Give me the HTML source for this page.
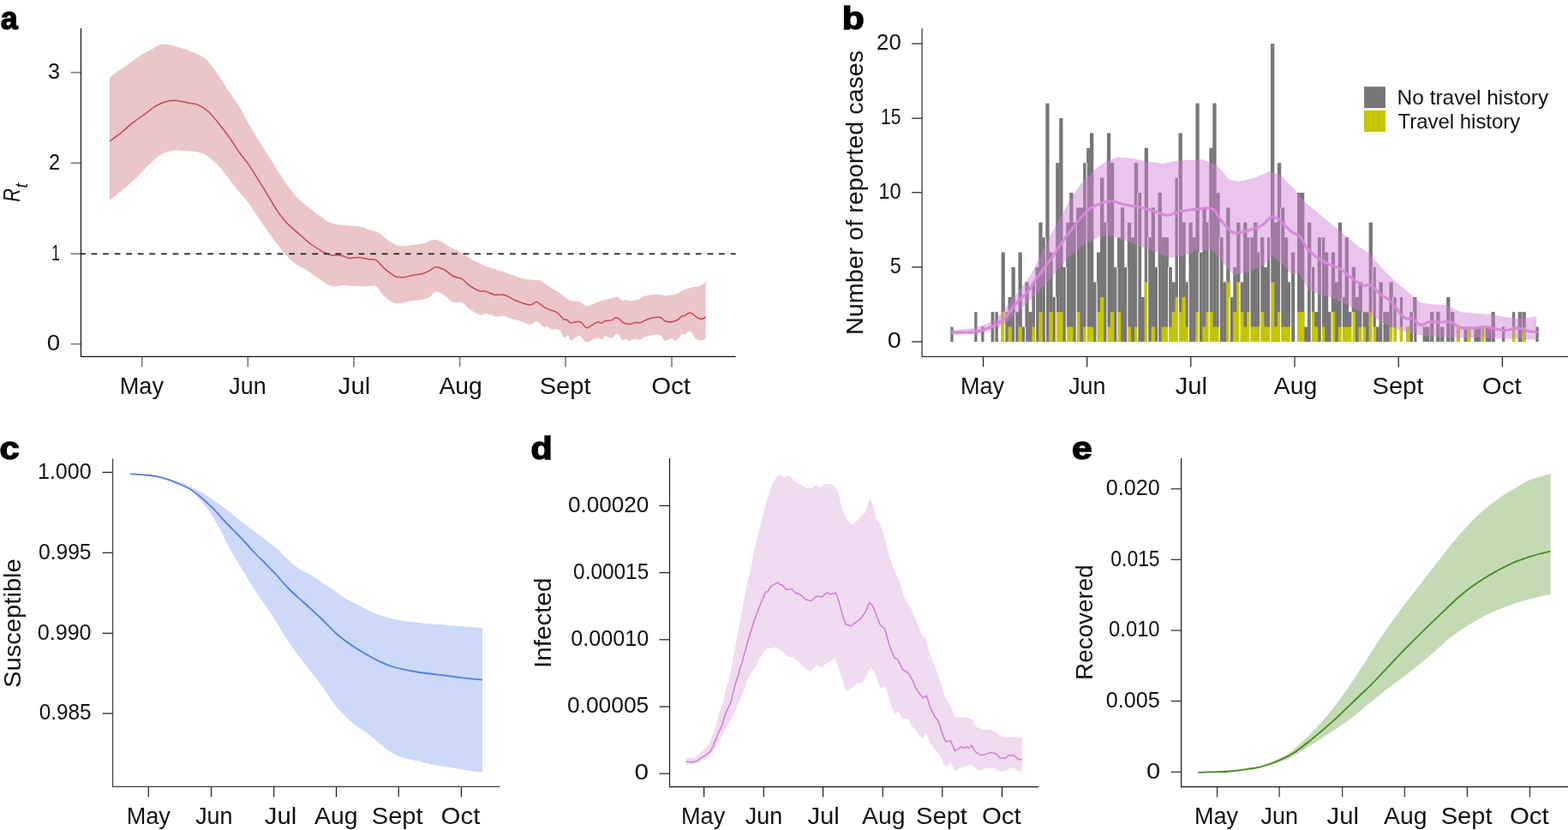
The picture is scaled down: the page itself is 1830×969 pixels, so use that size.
<!DOCTYPE html>
<html><head><meta charset="utf-8"><title>Figure</title>
<style>html,body{margin:0;padding:0;background:#fff;}svg{display:block;}text{font-family:"Liberation Sans", Arial, sans-serif;fill:#111111;}</style></head><body>
<svg width="1830" height="969" viewBox="0 0 1830 969">
<rect width="1830" height="969" fill="#fff"/>
<text x="0.7" y="33.8" font-size="37" textLength="20" lengthAdjust="spacingAndGlyphs" font-weight="bold" stroke="#000" stroke-width="1.4" style="fill:#000">a</text>
<text x="982.7" y="33.7" font-size="37" textLength="26" lengthAdjust="spacingAndGlyphs" font-weight="bold" stroke="#000" stroke-width="1.4" style="fill:#000">b</text>
<text x="-0.4" y="535.8" font-size="37" textLength="23.2" lengthAdjust="spacingAndGlyphs" font-weight="bold" stroke="#000" stroke-width="1.4" style="fill:#000">c</text>
<text x="619.6" y="535.8" font-size="37" textLength="25.2" lengthAdjust="spacingAndGlyphs" font-weight="bold" stroke="#000" stroke-width="1.4" style="fill:#000">d</text>
<text x="1251" y="535.8" font-size="37" textLength="23.7" lengthAdjust="spacingAndGlyphs" font-weight="bold" stroke="#000" stroke-width="1.4" style="fill:#000">e</text>
<path d="M127.8 90.6 C129.9 89 136 84.6 140.6 81.3 C145.2 78 151 73.9 155.1 71 C159.2 68.1 162 65.8 165.4 63.7 C168.8 61.6 171.9 60.6 175.7 58.6 C179.5 56.6 183.6 52.7 188.1 51.8 C192.6 50.9 197.4 52.3 202.6 53.4 C207.8 54.5 213.5 56.5 219 58.6 C224.5 60.7 231.5 63.4 235.6 65.8 C239.7 68.2 240.4 69 243.8 73 C247.2 77 252.4 84 256.2 89.5 C260 95 263.1 100.8 266.5 106 C269.9 111.2 273 114.2 276.9 120.5 C280.8 126.8 285.8 136.7 290 144.1 C294.2 151.5 298.3 158.1 302.4 164.8 C306.5 171.5 310.7 177.9 314.8 184.4 C318.9 190.9 322.7 197.3 327.2 204 C331.7 210.7 336.8 218.8 341.6 224.6 C346.4 230.4 350.8 234.6 356 239.1 C361.2 243.6 367.8 248.1 372.6 251.5 C377.4 254.9 380.1 257.8 384.9 259.7 C389.7 261.6 395.3 261.9 401.5 262.8 C407.7 263.7 417.4 264 422.1 264.9 C426.9 265.8 426.6 266.9 430 268 C433.4 269.1 439.3 270.2 442.4 271.8 C445.5 273.4 446.1 275.4 448.6 277.3 C451.1 279.2 454.1 281.9 457.2 283.5 C460.3 285.1 463.5 286.7 467.2 287.2 C470.9 287.7 475.4 286.7 479.5 286.3 C483.6 285.9 488.2 285.6 491.9 284.8 C495.6 284 499.1 282.1 501.8 281.3 C504.5 280.5 505.5 279.5 508 279.8 C510.5 280.1 514 281.5 516.7 282.9 C519.4 284.2 521 286.1 524.1 287.9 C527.2 289.6 532 291.6 535.3 293.4 C538.6 295.1 541.2 296.8 543.9 298.4 C546.6 300 548.7 301.8 551.4 303.3 C554.1 304.9 556.5 306.1 560 307.7 C563.5 309.2 568.3 311.2 572.4 312.6 C576.5 314 580.7 315 584.8 316.3 C588.9 317.6 593.1 319.2 597.2 320.7 C601.3 322.1 605.5 324 609.6 325 C613.7 326 618.6 326.5 622 326.9 C625.4 327.3 626.9 326.2 630 327.5 C633.1 328.8 636.9 332.1 640.9 334.6 C644.9 337.2 651.1 340.8 654 342.8 C656.9 344.8 656.4 345.2 658.4 346.6 C660.4 348 663 350 666.1 351 C669.2 352 674.3 351.7 677 352.6 C679.7 353.5 680.9 355.7 682.5 356.4 C684.1 357.1 684.6 357.5 686.8 357 C689 356.5 692.3 354.4 695.6 353.2 C698.9 352 703.6 350.7 706.5 349.9 C709.4 349.1 711.1 348.9 713.1 348.3 C715.1 347.8 716.9 346.7 718.5 346.6 C720.1 346.5 721.6 347 722.9 347.7 C724.2 348.4 724.9 350.6 726.2 351 C727.5 351.4 729 349.8 730.5 349.9 C732 350 732.4 351.6 734.9 351.5 C737.4 351.4 743.2 350.1 745.8 349.3 C748.3 348.5 747.7 347.5 750.2 346.6 C752.8 345.7 757.6 344.6 761.1 344.1 C764.6 343.7 768.1 343.7 771 343.9 C773.9 344.1 775.3 345.4 778.6 345.2 C781.9 345 787.8 343.8 790.7 342.8 C793.6 341.8 793.7 340.4 796.1 339.3 C798.5 338.2 801.6 337.1 804.9 336.2 C808.2 335.3 813.2 334.7 815.8 334 C818.3 333.3 818.9 332.8 820.2 331.9 C821.5 331 823.1 329 823.7 328.4 L823.7 395.2 C823.1 395.5 821.5 396.6 820.2 396.9 C818.9 397.2 817.3 397.3 815.8 396.9 C814.3 396.5 812.9 396.2 811.4 394.7 C809.9 393.2 808.3 389.4 807 388.1 C805.7 386.8 805.1 386.5 803.8 387 C802.5 387.5 800.7 390.4 799.4 390.9 C798.1 391.4 797.4 389.1 796.1 389.8 C794.8 390.5 793.2 393.8 791.7 395.2 C790.2 396.6 788.7 398.1 787.4 398 C786.1 397.9 785.2 395 784.1 394.7 C783 394.4 782.2 395.9 780.8 396.3 C779.3 396.8 777.2 398.3 775.4 397.4 C773.6 396.5 772.3 391.9 769.9 390.9 C767.5 389.9 764.2 390.9 761.1 391.4 C758 391.8 753.7 392.7 751.3 393.6 C748.9 394.5 748.9 396.5 746.9 396.9 C744.9 397.3 741.3 395.5 739.3 395.8 C737.3 396.1 736.4 398.5 734.9 398.5 C733.4 398.5 732 396.1 730.5 395.8 C729 395.5 727.5 397.6 726.2 396.9 C724.9 396.2 724.2 392.5 722.9 391.4 C721.6 390.3 720 389.8 718.5 390.3 C717 390.9 716.2 394.3 714.2 394.7 C712.2 395.1 708.5 392.1 706.5 392.5 C704.5 392.9 703.4 396.6 702.1 396.9 C700.8 397.2 700.4 394.4 698.9 394.2 C697.4 394 695.4 395 693.4 395.8 C691.4 396.6 688.6 398.7 686.8 399.1 C685 399.6 684.1 399.7 682.5 398.5 C680.9 397.3 678.8 392.7 677 392 C675.2 391.3 673.3 393.3 671.5 394.2 C669.7 395.1 667.6 397.9 666.1 397.4 C664.6 396.9 664.1 391.9 662.8 391.4 C661.5 390.9 659.9 395 658.4 394.2 C656.9 393.4 655.5 388.1 654 386.5 C652.5 384.9 651.5 384.7 649.7 384.3 C647.9 383.9 644.9 384.9 643.1 384.3 C641.3 383.8 640.2 381.4 638.7 381 C637.2 380.6 635.9 382.1 634.4 381.6 C632.9 381.1 631.5 378.8 630 377.8 C628.5 376.8 627.7 375.3 625.7 375.5 C623.7 375.7 620.9 378.8 618.2 378.9 C615.5 378.9 613.1 376.9 609.6 375.8 C606.1 374.7 600.7 373.2 597.2 372.1 C593.7 371 591.6 369.4 588.5 369 C585.4 368.6 582.1 370.1 578.6 369.6 C575.1 369.1 570.4 366.2 567.5 365.9 C564.6 365.6 564.4 368.4 561.3 367.7 C558.2 367 552.6 364 548.9 361.5 C545.2 359 542.3 354.3 539 352.9 C535.7 351.5 532.8 354.4 529.1 352.9 C525.4 351.3 520.2 345.7 516.7 343.6 C513.2 341.5 510.5 340 508 340.5 C505.5 341 504.5 345.1 501.8 346.7 C499.1 348.2 495.6 349 491.9 349.8 C488.2 350.6 483 351 479.5 351.6 C476 352.2 474 353.1 470.9 353.5 C467.8 353.9 464.1 354.8 461 354.1 C457.9 353.4 455 351.3 452.3 349.2 C449.6 347.1 447.2 344.2 444.9 341.7 C442.6 339.2 441.2 335.3 438.7 334.1 C436.2 332.9 434.1 334.3 430 334.3 C425.9 334.3 418.6 334.2 413.8 334 C409.1 333.8 406 333 401.5 333 C397 333 391.8 335.2 387 334 C382.2 332.8 377.4 328.9 372.6 325.8 C367.8 322.7 362.9 318.5 358.1 315.4 C353.3 312.3 348.2 310.6 343.7 307.2 C339.2 303.8 335.8 300 331.3 294.8 C326.8 289.6 321.6 282.7 316.8 276.2 C312 269.7 306.9 262.1 302.4 255.6 C297.9 249.1 294.2 242.7 290 237 C285.8 231.3 281.1 226.9 276.9 221.6 C272.6 216.3 268.6 210.2 264.5 205.1 C260.4 199.9 256.9 195.1 252.1 190.7 C247.3 186.3 241.8 181.1 235.6 178.7 C229.4 176.3 220.4 176.7 214.9 176.2 C209.4 175.7 207.1 175.1 202.6 175.8 C198.1 176.5 192.6 177.8 188.1 180.3 C183.6 182.8 179.1 187.6 175.7 190.7 C172.3 193.8 170.9 195.5 167.5 198.9 C164.1 202.3 159.6 207.2 155.1 211.3 C150.6 215.4 145.2 219.9 140.6 223.7 C136 227.5 129.9 232.3 127.8 234 Z" fill="#ebc6c8"/>
<path d="M127.8 164.9 C129.9 163.3 136 159.2 140.6 155.6 C145.2 152 150.3 147 155.1 143.2 C159.9 139.4 165 136.2 169.5 132.9 C174 129.6 177.8 126 181.9 123.6 C186 121.2 190.2 119.4 194.3 118.4 C198.4 117.4 202.2 117.1 206.7 117.4 C211.2 117.8 217 119.6 221.1 120.5 C225.2 121.4 227.7 120.9 231.5 122.6 C235.3 124.3 239.7 127 243.8 130.8 C247.9 134.6 252.1 140.1 256.2 145.3 C260.3 150.5 264.5 156 268.6 161.8 C272.7 167.6 277.4 175.3 281 180.3 C284.6 185.3 286.8 187 290 191.6 C293.2 196.2 296.9 202.6 300.3 208.1 C303.7 213.6 306.8 218.4 310.6 224.6 C314.4 230.8 319.2 239.6 323 245.3 C326.8 251 329.2 254.2 333.3 258.7 C337.4 263.2 343 267.8 347.8 272.1 C352.6 276.4 357.4 280.9 362.2 284.5 C367 288.1 372.6 291.6 376.7 293.8 C380.8 296 383.6 297.2 387 297.9 C390.4 298.6 393.9 297.3 397.3 297.9 C400.7 298.5 404.2 300.9 407.6 301.4 C411.1 301.8 414.3 300.4 418 300.6 C421.7 300.8 426.6 302.2 430 302.7 C433.4 303.2 435.6 301.8 438.7 303.6 C441.8 305.4 444.9 310.2 448.6 313.3 C452.3 316.4 457.3 320.8 461 322.5 C464.7 324.2 467.4 324 470.9 323.8 C474.4 323.6 478.1 322.1 482 321.3 C485.9 320.5 491.1 320.1 494.4 319.2 C497.7 318.3 499.5 316.9 501.8 315.7 C504.1 314.5 505.3 312 508 311.8 C510.7 311.6 514.4 312.7 517.9 314.5 C521.4 316.3 525.6 320.6 529.1 322.5 C532.6 324.4 535.9 323.8 539 325.6 C542.1 327.4 544.1 330.7 547.6 333.1 C551.1 335.5 556.9 338.8 560 339.9 C563.1 341 563.3 339.2 566.2 339.9 C569.1 340.6 573.7 343.5 577.4 344.2 C581.1 344.9 584.6 343.2 588.5 344.2 C592.4 345.2 595.9 348.4 600.9 350.4 C605.9 352.4 614.1 355.7 618.2 356 C622.3 356.3 623.7 352.5 625.7 352.3 C627.7 352.1 628.5 353.8 630 354.8 C631.5 355.8 632.6 357 634.4 358.1 C636.2 359.2 638.3 360.3 640.9 361.4 C643.5 362.5 647 362.8 649.7 364.6 C652.4 366.4 655.3 370.8 657.3 372.3 C659.3 373.8 660.2 372.6 661.7 373.4 C663.2 374.2 664.1 376.5 666.1 376.9 C668.1 377.3 671.7 375.7 673.7 375.6 C675.7 375.5 676.6 375.2 678.1 376.1 C679.6 377 681.2 379.9 682.5 381 C683.8 382.1 684.2 383 685.7 382.7 C687.2 382.4 689.2 380.5 691.2 379.4 C693.2 378.3 696 376.5 697.8 376.1 C699.6 375.7 700.6 377.5 702.1 377.2 C703.6 376.9 704.5 375.1 706.5 374.5 C708.5 373.9 712.2 374.5 714.2 373.9 C716.2 373.3 717 371 718.5 370.7 C720 370.4 721.6 371.4 722.9 372.3 C724.2 373.2 724.2 375.1 726.2 376.1 C728.2 377.2 732.4 378.6 734.9 378.6 C737.4 378.7 739.5 376.7 741.5 376.4 C743.5 376.1 744.5 377.3 746.9 376.7 C749.3 376.1 753 373.8 755.7 372.8 C758.4 371.8 760.8 371.1 763.3 370.7 C765.8 370.3 769 370.1 771 370.7 C773 371.3 773.9 373.6 775.4 374.5 C776.9 375.4 777.7 375.7 779.7 375.8 C781.7 375.9 785.4 375.5 787.4 375 C789.4 374.5 790.2 373.8 791.7 372.8 C793.2 371.8 794.8 369.7 796.1 369 C797.4 368.3 798.1 369.1 799.4 368.5 C800.7 367.9 802.3 365.9 803.8 365.5 C805.2 365.1 806.6 365.5 808.1 366.3 C809.6 367.1 810.9 369.1 812.5 370.1 C814.1 371.1 816.1 372.5 818 372.5 C819.9 372.5 822.8 370.7 823.7 370.3" fill="none" stroke="#c64952" stroke-width="1.5" stroke-linejoin="round"/>
<line x1="93.05" y1="296.4" x2="858.7" y2="296.4" stroke="#222" stroke-width="1.6" stroke-dasharray="6.7 6.865"/>
<line x1="82.5" y1="401.6" x2="94.5" y2="401.6" stroke="#7a7a7a" stroke-width="1.6"/>
<line x1="82.5" y1="296.3" x2="94.5" y2="296.3" stroke="#7a7a7a" stroke-width="1.6"/>
<line x1="82.5" y1="190.4" x2="94.5" y2="190.4" stroke="#7a7a7a" stroke-width="1.6"/>
<line x1="82.5" y1="84.6" x2="94.5" y2="84.6" stroke="#7a7a7a" stroke-width="1.6"/>
<line x1="165.7" y1="416.4" x2="165.7" y2="428.4" stroke="#7a7a7a" stroke-width="1.6"/>
<line x1="289.3" y1="416.4" x2="289.3" y2="428.4" stroke="#7a7a7a" stroke-width="1.6"/>
<line x1="413" y1="416.4" x2="413" y2="428.4" stroke="#7a7a7a" stroke-width="1.6"/>
<line x1="536.6" y1="416.4" x2="536.6" y2="428.4" stroke="#7a7a7a" stroke-width="1.6"/>
<line x1="660" y1="416.4" x2="660" y2="428.4" stroke="#7a7a7a" stroke-width="1.6"/>
<line x1="784" y1="416.4" x2="784" y2="428.4" stroke="#7a7a7a" stroke-width="1.6"/>
<path d="M94.5 33 V416.4 H858.6" fill="none" stroke="#111" stroke-width="1.2"/>
<text x="54.7" y="408.8" font-size="25" textLength="15.4" lengthAdjust="spacingAndGlyphs" >0</text>
<text x="60.2" y="303.5" font-size="25" textLength="9.5" lengthAdjust="spacingAndGlyphs" >1</text>
<text x="57" y="197.6" font-size="25" textLength="13" lengthAdjust="spacingAndGlyphs" >2</text>
<text x="56" y="91.8" font-size="25" textLength="14" lengthAdjust="spacingAndGlyphs" >3</text>
<text x="139.8" y="460.3" font-size="27.5" textLength="51.2" lengthAdjust="spacingAndGlyphs" >May</text>
<text x="267.3" y="460.3" font-size="27.5" textLength="43.3" lengthAdjust="spacingAndGlyphs" >Jun</text>
<text x="394.8" y="460.3" font-size="27.5" textLength="37.4" lengthAdjust="spacingAndGlyphs" >Jul</text>
<text x="512.4" y="460.3" font-size="27.5" textLength="50.4" lengthAdjust="spacingAndGlyphs" >Aug</text>
<text x="629.7" y="460.3" font-size="27.5" textLength="59.8" lengthAdjust="spacingAndGlyphs" >Sept</text>
<text x="760.2" y="460.3" font-size="27.5" textLength="45.8" lengthAdjust="spacingAndGlyphs" >Oct</text>
<text transform="translate(23.3,234.9) rotate(-90)" x="-0.8" y="0" font-size="28" textLength="15.7" lengthAdjust="spacingAndGlyphs" font-style="italic">R</text>
<text transform="translate(32,218.6) rotate(-90)" x="-1.1" y="0" font-size="20" textLength="5.9" lengthAdjust="spacingAndGlyphs" font-style="italic">t</text>
<g><rect x="1109.3" y="381.6" width="3.3" height="17.4" fill="#787678"/><rect x="1137.2" y="364.2" width="3.3" height="34.8" fill="#787678"/><rect x="1145.2" y="381.6" width="3.3" height="17.4" fill="#787678"/><rect x="1156.6" y="364.2" width="4.3" height="34.8" fill="#787678"/><rect x="1160.6" y="364.2" width="4.3" height="34.8" fill="#787678"/><rect x="1168.6" y="294.6" width="4.3" height="104.4" fill="#787678"/><rect x="1172.5" y="364.2" width="4.3" height="34.8" fill="#787678"/><rect x="1176.5" y="346.8" width="4.3" height="52.2" fill="#787678"/><rect x="1180.5" y="312" width="4.3" height="87" fill="#787678"/><rect x="1184.5" y="364.2" width="4.3" height="34.8" fill="#787678"/><rect x="1188.5" y="294.6" width="4.3" height="104.4" fill="#787678"/><rect x="1192.4" y="381.6" width="4.3" height="17.4" fill="#787678"/><rect x="1196.4" y="329.4" width="4.3" height="69.6" fill="#787678"/><rect x="1200.4" y="364.2" width="4.3" height="34.8" fill="#787678"/><rect x="1204.4" y="329.4" width="4.3" height="69.6" fill="#787678"/><rect x="1208.4" y="312" width="4.3" height="87" fill="#787678"/><rect x="1212.3" y="259.8" width="4.3" height="139.2" fill="#787678"/><rect x="1216.3" y="277.2" width="4.3" height="121.8" fill="#787678"/><rect x="1220.3" y="120.6" width="4.3" height="278.4" fill="#787678"/><rect x="1224.3" y="294.6" width="4.3" height="104.4" fill="#787678"/><rect x="1228.3" y="346.8" width="4.3" height="52.2" fill="#787678"/><rect x="1232.2" y="190.2" width="4.3" height="208.8" fill="#787678"/><rect x="1236.2" y="138" width="4.3" height="261" fill="#787678"/><rect x="1240.2" y="312" width="4.3" height="87" fill="#787678"/><rect x="1244.2" y="259.8" width="4.3" height="139.2" fill="#787678"/><rect x="1248.2" y="225" width="4.3" height="174" fill="#787678"/><rect x="1252.1" y="259.8" width="4.3" height="139.2" fill="#787678"/><rect x="1256.1" y="242.4" width="4.3" height="156.6" fill="#787678"/><rect x="1260.1" y="242.4" width="4.3" height="156.6" fill="#787678"/><rect x="1264.1" y="190.2" width="4.3" height="208.8" fill="#787678"/><rect x="1268.1" y="172.8" width="4.3" height="226.2" fill="#787678"/><rect x="1272" y="155.4" width="4.3" height="243.6" fill="#787678"/><rect x="1276" y="329.4" width="4.3" height="69.6" fill="#787678"/><rect x="1280" y="294.6" width="4.3" height="104.4" fill="#787678"/><rect x="1284" y="207.6" width="4.3" height="191.4" fill="#787678"/><rect x="1288" y="259.8" width="4.3" height="139.2" fill="#787678"/><rect x="1291.9" y="155.4" width="4.3" height="243.6" fill="#787678"/><rect x="1295.9" y="190.2" width="4.3" height="208.8" fill="#787678"/><rect x="1299.9" y="312" width="4.3" height="87" fill="#787678"/><rect x="1303.9" y="277.2" width="4.3" height="121.8" fill="#787678"/><rect x="1307.9" y="242.4" width="4.3" height="156.6" fill="#787678"/><rect x="1311.8" y="312" width="4.3" height="87" fill="#787678"/><rect x="1315.8" y="259.8" width="4.3" height="139.2" fill="#787678"/><rect x="1319.8" y="277.2" width="4.3" height="121.8" fill="#787678"/><rect x="1323.8" y="190.2" width="4.3" height="208.8" fill="#787678"/><rect x="1327.8" y="225" width="4.3" height="174" fill="#787678"/><rect x="1331.7" y="346.8" width="4.3" height="52.2" fill="#787678"/><rect x="1335.7" y="172.8" width="4.3" height="226.2" fill="#787678"/><rect x="1339.7" y="277.2" width="4.3" height="121.8" fill="#787678"/><rect x="1343.7" y="242.4" width="4.3" height="156.6" fill="#787678"/><rect x="1347.7" y="312" width="4.3" height="87" fill="#787678"/><rect x="1351.6" y="225" width="4.3" height="174" fill="#787678"/><rect x="1355.6" y="277.2" width="4.3" height="121.8" fill="#787678"/><rect x="1359.6" y="277.2" width="4.3" height="121.8" fill="#787678"/><rect x="1363.6" y="312" width="4.3" height="87" fill="#787678"/><rect x="1367.6" y="329.4" width="4.3" height="69.6" fill="#787678"/><rect x="1371.5" y="207.6" width="4.3" height="191.4" fill="#787678"/><rect x="1375.5" y="155.4" width="4.3" height="243.6" fill="#787678"/><rect x="1379.5" y="259.8" width="4.3" height="139.2" fill="#787678"/><rect x="1383.5" y="329.4" width="4.3" height="69.6" fill="#787678"/><rect x="1387.5" y="259.8" width="4.3" height="139.2" fill="#787678"/><rect x="1391.4" y="277.2" width="4.3" height="121.8" fill="#787678"/><rect x="1395.4" y="120.6" width="4.3" height="278.4" fill="#787678"/><rect x="1399.4" y="294.6" width="4.3" height="104.4" fill="#787678"/><rect x="1403.4" y="242.4" width="4.3" height="156.6" fill="#787678"/><rect x="1407.4" y="259.8" width="4.3" height="139.2" fill="#787678"/><rect x="1411.3" y="172.8" width="4.3" height="226.2" fill="#787678"/><rect x="1415.3" y="120.6" width="4.3" height="278.4" fill="#787678"/><rect x="1419.3" y="225" width="4.3" height="174" fill="#787678"/><rect x="1423.3" y="277.2" width="4.3" height="121.8" fill="#787678"/><rect x="1427.3" y="329.4" width="4.3" height="69.6" fill="#787678"/><rect x="1431.2" y="242.4" width="4.3" height="156.6" fill="#787678"/><rect x="1435.2" y="346.8" width="4.3" height="52.2" fill="#787678"/><rect x="1439.2" y="312" width="4.3" height="87" fill="#787678"/><rect x="1443.2" y="259.8" width="4.3" height="139.2" fill="#787678"/><rect x="1447.2" y="329.4" width="4.3" height="69.6" fill="#787678"/><rect x="1451.1" y="259.8" width="4.3" height="139.2" fill="#787678"/><rect x="1455.1" y="277.2" width="4.3" height="121.8" fill="#787678"/><rect x="1459.1" y="277.2" width="4.3" height="121.8" fill="#787678"/><rect x="1463.1" y="259.8" width="4.3" height="139.2" fill="#787678"/><rect x="1467.1" y="294.6" width="4.3" height="104.4" fill="#787678"/><rect x="1471" y="277.2" width="4.3" height="121.8" fill="#787678"/><rect x="1475" y="312" width="4.3" height="87" fill="#787678"/><rect x="1479" y="277.2" width="4.3" height="121.8" fill="#787678"/><rect x="1483" y="51" width="4.3" height="348" fill="#787678"/><rect x="1487" y="259.8" width="4.3" height="139.2" fill="#787678"/><rect x="1490.9" y="190.2" width="4.3" height="208.8" fill="#787678"/><rect x="1494.9" y="242.4" width="4.3" height="156.6" fill="#787678"/><rect x="1498.9" y="277.2" width="4.3" height="121.8" fill="#787678"/><rect x="1502.9" y="329.4" width="4.3" height="69.6" fill="#787678"/><rect x="1506.9" y="294.6" width="4.3" height="104.4" fill="#787678"/><rect x="1514" y="225" width="4.3" height="174" fill="#787678"/><rect x="1518" y="225" width="4.3" height="174" fill="#787678"/><rect x="1522" y="381.6" width="4.3" height="17.4" fill="#787678"/><rect x="1526" y="259.8" width="4.3" height="139.2" fill="#787678"/><rect x="1529.9" y="312" width="4.3" height="87" fill="#787678"/><rect x="1533.9" y="364.2" width="4.3" height="34.8" fill="#787678"/><rect x="1537.9" y="277.2" width="4.3" height="121.8" fill="#787678"/><rect x="1541.9" y="277.2" width="4.3" height="121.8" fill="#787678"/><rect x="1545.9" y="294.6" width="4.3" height="104.4" fill="#787678"/><rect x="1549.8" y="364.2" width="4.3" height="34.8" fill="#787678"/><rect x="1553.8" y="294.6" width="4.3" height="104.4" fill="#787678"/><rect x="1557.8" y="329.4" width="4.3" height="69.6" fill="#787678"/><rect x="1561.8" y="259.8" width="4.3" height="139.2" fill="#787678"/><rect x="1565.7" y="346.8" width="4.3" height="52.2" fill="#787678"/><rect x="1569.7" y="277.2" width="4.3" height="121.8" fill="#787678"/><rect x="1573.7" y="364.2" width="4.3" height="34.8" fill="#787678"/><rect x="1577.7" y="312" width="4.3" height="87" fill="#787678"/><rect x="1581.6" y="346.8" width="4.3" height="52.2" fill="#787678"/><rect x="1585.6" y="329.4" width="4.3" height="69.6" fill="#787678"/><rect x="1589.6" y="364.2" width="4.3" height="34.8" fill="#787678"/><rect x="1593.6" y="364.2" width="4.3" height="34.8" fill="#787678"/><rect x="1597.6" y="259.8" width="4.3" height="139.2" fill="#787678"/><rect x="1601.5" y="312" width="4.3" height="87" fill="#787678"/><rect x="1605.5" y="381.6" width="4.3" height="17.4" fill="#787678"/><rect x="1609.5" y="329.4" width="4.3" height="69.6" fill="#787678"/><rect x="1613.5" y="364.2" width="4.3" height="34.8" fill="#787678"/><rect x="1617.4" y="364.2" width="4.3" height="34.8" fill="#787678"/><rect x="1621.4" y="329.4" width="4.3" height="69.6" fill="#787678"/><rect x="1625.4" y="346.8" width="4.3" height="52.2" fill="#787678"/><rect x="1633.8" y="346.8" width="3.3" height="52.2" fill="#787678"/><rect x="1641.3" y="381.6" width="4.3" height="17.4" fill="#787678"/><rect x="1645.3" y="364.2" width="4.3" height="34.8" fill="#787678"/><rect x="1649.1" y="346.8" width="4.3" height="52.2" fill="#787678"/><rect x="1660.6" y="381.6" width="4.3" height="17.4" fill="#787678"/><rect x="1664.2" y="381.6" width="4.3" height="17.4" fill="#787678"/><rect x="1669.1" y="364.2" width="4.3" height="34.8" fill="#787678"/><rect x="1676.2" y="364.2" width="4.3" height="34.8" fill="#787678"/><rect x="1681.1" y="381.6" width="4.3" height="17.4" fill="#787678"/><rect x="1688.1" y="346.8" width="4.3" height="52.2" fill="#787678"/><rect x="1693" y="364.2" width="4.3" height="34.8" fill="#787678"/><rect x="1700.3" y="381.6" width="3.3" height="17.4" fill="#787678"/><rect x="1708.5" y="381.6" width="4.3" height="17.4" fill="#787678"/><rect x="1712" y="381.6" width="4.3" height="17.4" fill="#787678"/><rect x="1720.4" y="381.6" width="4.3" height="17.4" fill="#787678"/><rect x="1724" y="381.6" width="4.3" height="17.4" fill="#787678"/><rect x="1728.9" y="381.6" width="4.3" height="17.4" fill="#787678"/><rect x="1732.5" y="381.6" width="4.3" height="17.4" fill="#787678"/><rect x="1735.7" y="381.6" width="4.3" height="17.4" fill="#787678"/><rect x="1740.5" y="364.2" width="4.3" height="34.8" fill="#787678"/><rect x="1753" y="381.6" width="3.3" height="17.4" fill="#787678"/><rect x="1764.9" y="364.2" width="3.3" height="34.8" fill="#787678"/><rect x="1771.7" y="364.2" width="4.3" height="34.8" fill="#787678"/><rect x="1776.5" y="364.2" width="4.3" height="34.8" fill="#787678"/><rect x="1792.4" y="381.6" width="3.3" height="17.4" fill="#787678"/><rect x="1168.6" y="364.2" width="4.3" height="34.8" fill="#c4c600"/><rect x="1176.5" y="381.6" width="4.3" height="17.4" fill="#c4c600"/><rect x="1188.5" y="381.6" width="4.3" height="17.4" fill="#c4c600"/><rect x="1204.4" y="381.6" width="4.3" height="17.4" fill="#c4c600"/><rect x="1212.3" y="364.2" width="4.3" height="34.8" fill="#c4c600"/><rect x="1224.3" y="364.2" width="4.3" height="34.8" fill="#c4c600"/><rect x="1232.2" y="364.2" width="4.3" height="34.8" fill="#c4c600"/><rect x="1236.2" y="364.2" width="4.3" height="34.8" fill="#c4c600"/><rect x="1244.2" y="381.6" width="4.3" height="17.4" fill="#c4c600"/><rect x="1248.2" y="381.6" width="4.3" height="17.4" fill="#c4c600"/><rect x="1256.1" y="364.2" width="4.3" height="34.8" fill="#c4c600"/><rect x="1264.1" y="381.6" width="4.3" height="17.4" fill="#c4c600"/><rect x="1268.1" y="381.6" width="4.3" height="17.4" fill="#c4c600"/><rect x="1272" y="381.6" width="4.3" height="17.4" fill="#c4c600"/><rect x="1280" y="364.2" width="4.3" height="34.8" fill="#c4c600"/><rect x="1284" y="346.8" width="4.3" height="52.2" fill="#c4c600"/><rect x="1291.9" y="381.6" width="4.3" height="17.4" fill="#c4c600"/><rect x="1295.9" y="364.2" width="4.3" height="34.8" fill="#c4c600"/><rect x="1303.9" y="364.2" width="4.3" height="34.8" fill="#c4c600"/><rect x="1315.8" y="381.6" width="4.3" height="17.4" fill="#c4c600"/><rect x="1323.8" y="381.6" width="4.3" height="17.4" fill="#c4c600"/><rect x="1335.7" y="329.4" width="4.3" height="69.6" fill="#c4c600"/><rect x="1343.7" y="381.6" width="4.3" height="17.4" fill="#c4c600"/><rect x="1355.6" y="381.6" width="4.3" height="17.4" fill="#c4c600"/><rect x="1359.6" y="381.6" width="4.3" height="17.4" fill="#c4c600"/><rect x="1363.6" y="381.6" width="4.3" height="17.4" fill="#c4c600"/><rect x="1367.6" y="364.2" width="4.3" height="34.8" fill="#c4c600"/><rect x="1371.5" y="346.8" width="4.3" height="52.2" fill="#c4c600"/><rect x="1375.5" y="364.2" width="4.3" height="34.8" fill="#c4c600"/><rect x="1379.5" y="346.8" width="4.3" height="52.2" fill="#c4c600"/><rect x="1383.5" y="381.6" width="4.3" height="17.4" fill="#c4c600"/><rect x="1395.4" y="364.2" width="4.3" height="34.8" fill="#c4c600"/><rect x="1403.4" y="381.6" width="4.3" height="17.4" fill="#c4c600"/><rect x="1407.4" y="364.2" width="4.3" height="34.8" fill="#c4c600"/><rect x="1411.3" y="364.2" width="4.3" height="34.8" fill="#c4c600"/><rect x="1415.3" y="381.6" width="4.3" height="17.4" fill="#c4c600"/><rect x="1419.3" y="381.6" width="4.3" height="17.4" fill="#c4c600"/><rect x="1431.2" y="329.4" width="4.3" height="69.6" fill="#c4c600"/><rect x="1439.2" y="364.2" width="4.3" height="34.8" fill="#c4c600"/><rect x="1443.2" y="329.4" width="4.3" height="69.6" fill="#c4c600"/><rect x="1447.2" y="364.2" width="4.3" height="34.8" fill="#c4c600"/><rect x="1451.1" y="381.6" width="4.3" height="17.4" fill="#c4c600"/><rect x="1455.1" y="364.2" width="4.3" height="34.8" fill="#c4c600"/><rect x="1459.1" y="381.6" width="4.3" height="17.4" fill="#c4c600"/><rect x="1463.1" y="381.6" width="4.3" height="17.4" fill="#c4c600"/><rect x="1467.1" y="381.6" width="4.3" height="17.4" fill="#c4c600"/><rect x="1471" y="364.2" width="4.3" height="34.8" fill="#c4c600"/><rect x="1475" y="381.6" width="4.3" height="17.4" fill="#c4c600"/><rect x="1479" y="381.6" width="4.3" height="17.4" fill="#c4c600"/><rect x="1483" y="329.4" width="4.3" height="69.6" fill="#c4c600"/><rect x="1487" y="381.6" width="4.3" height="17.4" fill="#c4c600"/><rect x="1490.9" y="364.2" width="4.3" height="34.8" fill="#c4c600"/><rect x="1494.9" y="381.6" width="4.3" height="17.4" fill="#c4c600"/><rect x="1498.9" y="381.6" width="4.3" height="17.4" fill="#c4c600"/><rect x="1502.9" y="381.6" width="4.3" height="17.4" fill="#c4c600"/><rect x="1514" y="364.2" width="4.3" height="34.8" fill="#c4c600"/><rect x="1518" y="364.2" width="4.3" height="34.8" fill="#c4c600"/><rect x="1529.9" y="364.2" width="4.3" height="34.8" fill="#c4c600"/><rect x="1533.9" y="381.6" width="4.3" height="17.4" fill="#c4c600"/><rect x="1541.9" y="381.6" width="4.3" height="17.4" fill="#c4c600"/><rect x="1553.8" y="364.2" width="4.3" height="34.8" fill="#c4c600"/><rect x="1561.8" y="381.6" width="4.3" height="17.4" fill="#c4c600"/><rect x="1565.7" y="381.6" width="4.3" height="17.4" fill="#c4c600"/><rect x="1569.7" y="381.6" width="4.3" height="17.4" fill="#c4c600"/><rect x="1573.7" y="381.6" width="4.3" height="17.4" fill="#c4c600"/><rect x="1577.7" y="364.2" width="4.3" height="34.8" fill="#c4c600"/><rect x="1585.6" y="381.6" width="4.3" height="17.4" fill="#c4c600"/><rect x="1589.6" y="381.6" width="4.3" height="17.4" fill="#c4c600"/><rect x="1597.6" y="364.2" width="4.3" height="34.8" fill="#c4c600"/><rect x="1601.5" y="381.6" width="4.3" height="17.4" fill="#c4c600"/><rect x="1621.4" y="381.6" width="4.3" height="17.4" fill="#c4c600"/><rect x="1625.4" y="381.6" width="4.3" height="17.4" fill="#c4c600"/><rect x="1633.8" y="381.6" width="3.3" height="17.4" fill="#c4c600"/><rect x="1641.3" y="381.6" width="4.3" height="17.4" fill="#c4c600"/><rect x="1700.3" y="381.6" width="3.3" height="17.4" fill="#c4c600"/><rect x="1712" y="381.6" width="4.3" height="17.4" fill="#c4c600"/><rect x="1728.9" y="381.6" width="4.3" height="17.4" fill="#c4c600"/><rect x="1764.9" y="381.6" width="3.3" height="17.4" fill="#c4c600"/><rect x="1776.5" y="381.6" width="4.3" height="17.4" fill="#c4c600"/><rect x="1160.3" y="364.2" width="1.1" height="34.8" fill="#fff"/><rect x="1172.2" y="364.2" width="1.1" height="34.8" fill="#fff"/><rect x="1184.1" y="364.2" width="1.1" height="34.8" fill="#fff"/><rect x="1196.1" y="381.6" width="1.1" height="17.4" fill="#fff"/><rect x="1208" y="329.4" width="1.1" height="69.6" fill="#fff"/><rect x="1219.9" y="277.2" width="1.1" height="121.8" fill="#fff"/><rect x="1231.8" y="346.8" width="1.1" height="52.2" fill="#fff"/><rect x="1243.8" y="312" width="1.1" height="87" fill="#fff"/><rect x="1255.7" y="259.8" width="1.1" height="139.2" fill="#fff"/><rect x="1267.6" y="190.2" width="1.1" height="208.8" fill="#fff"/><rect x="1279.5" y="329.4" width="1.1" height="69.6" fill="#fff"/><rect x="1291.4" y="259.8" width="1.1" height="139.2" fill="#fff"/><rect x="1303.4" y="312" width="1.1" height="87" fill="#fff"/><rect x="1315.3" y="312" width="1.1" height="87" fill="#fff"/><rect x="1327.2" y="225" width="1.1" height="174" fill="#fff"/><rect x="1339.1" y="277.2" width="1.1" height="121.8" fill="#fff"/><rect x="1351" y="312" width="1.1" height="87" fill="#fff"/><rect x="1363" y="312" width="1.1" height="87" fill="#fff"/><rect x="1374.9" y="207.6" width="1.1" height="191.4" fill="#fff"/><rect x="1386.8" y="329.4" width="1.1" height="69.6" fill="#fff"/><rect x="1398.7" y="294.6" width="1.1" height="104.4" fill="#fff"/><rect x="1410.6" y="259.8" width="1.1" height="139.2" fill="#fff"/><rect x="1422.6" y="277.2" width="1.1" height="121.8" fill="#fff"/><rect x="1434.5" y="346.8" width="1.1" height="52.2" fill="#fff"/><rect x="1446.4" y="329.4" width="1.1" height="69.6" fill="#fff"/><rect x="1458.3" y="277.2" width="1.1" height="121.8" fill="#fff"/><rect x="1470.2" y="294.6" width="1.1" height="104.4" fill="#fff"/><rect x="1482.2" y="277.2" width="1.1" height="121.8" fill="#fff"/><rect x="1494.1" y="242.4" width="1.1" height="156.6" fill="#fff"/><rect x="1506" y="329.4" width="1.1" height="69.6" fill="#fff"/><rect x="1529.8" y="312" width="1.1" height="87" fill="#fff"/><rect x="1541.8" y="277.2" width="1.1" height="121.8" fill="#fff"/><rect x="1553.7" y="364.2" width="1.1" height="34.8" fill="#fff"/><rect x="1565.6" y="346.8" width="1.1" height="52.2" fill="#fff"/><rect x="1577.5" y="364.2" width="1.1" height="34.8" fill="#fff"/><rect x="1589.4" y="364.2" width="1.1" height="34.8" fill="#fff"/><rect x="1601.4" y="312" width="1.1" height="87" fill="#fff"/><rect x="1613.3" y="364.2" width="1.1" height="34.8" fill="#fff"/><rect x="1625.2" y="346.8" width="1.1" height="52.2" fill="#fff"/><rect x="1649" y="364.2" width="1.1" height="34.8" fill="#fff"/><rect x="1732.5" y="381.6" width="1.1" height="17.4" fill="#fff"/></g>
<path d="M1111.1 385.6 L1137.2 383.1 L1157 375.7 L1169.4 365.7 L1181.8 348.4 L1194.2 333.5 L1204.1 318.7 L1214 298.8 L1226.4 274.1 L1238.8 251.8 L1251.1 229.5 L1263.5 212.1 L1278.4 197.3 L1293.3 187.3 L1305.6 183.6 L1323 184.9 L1337.9 188.6 L1357.7 191.1 L1372.5 187.8 L1402.3 186.1 L1419.6 192.3 L1434.5 209.6 L1446.9 212.1 L1464.9 207.2 L1482.2 199.7 L1494.6 204.7 L1509.5 219.6 L1524.3 236.9 L1539.2 249.3 L1554.1 261.7 L1568.9 274.1 L1583.8 286.5 L1598.7 296.4 L1613.5 313.7 L1628.4 328.6 L1643.3 341 L1658.1 353.4 L1673 355.3 L1687.9 356.3 L1705.2 364.5 L1722.5 365.7 L1739.9 367 L1759.7 370.7 L1777.1 371.9 L1793.2 369.5 L1793.2 396.7 L1772.1 395.5 L1747.3 395.5 L1722.5 394.2 L1697.8 394.2 L1673 393 L1653.2 390.5 L1638.3 386.8 L1623.4 381.8 L1608.6 373.2 L1596.2 365.7 L1583.8 362 L1568.9 354.6 L1554.1 347.2 L1539.2 343.4 L1526.8 338.5 L1516.9 318.7 L1507 319.9 L1497.1 308.8 L1484.7 298.8 L1474.8 310 L1464.9 313.7 L1451.8 318.7 L1439.4 321.1 L1427.1 306.3 L1414.7 291.4 L1397.3 292.6 L1384.9 297.6 L1365.1 301.3 L1345.3 292.6 L1328 286.5 L1310.6 280.3 L1295.7 275.3 L1283.4 276.5 L1263.5 286.5 L1248.7 298.8 L1233.8 316.2 L1218.9 333.5 L1204.1 348.4 L1186.7 365.7 L1171.9 378.1 L1157 385.6 L1137.2 390.5 L1111.1 390.5 Z" fill="#cf7fd6" fill-opacity="0.46"/>
<path d="M1111.1 388 C1115.4 387.9 1129.5 388.5 1137.2 387.5 C1144.9 386.5 1151.2 384.4 1157 381.8 C1162.8 379.2 1167 376.6 1171.9 371.9 C1176.9 367.2 1182.2 358.5 1186.7 353.4 C1191.2 348.2 1195.4 345.6 1199.1 341 C1202.8 336.4 1204.9 331.9 1209 326.1 C1213.1 320.3 1218.9 313.3 1223.9 306.3 C1228.9 299.3 1233.8 291 1238.8 284 C1243.8 277 1248.2 270.8 1253.6 264.2 C1259 257.6 1265.2 248.9 1271 244.3 C1276.8 239.7 1283.8 238 1288.3 236.4 C1292.8 234.8 1294.1 234.5 1298.2 234.9 C1302.3 235.3 1307.7 237.7 1313.1 238.9 C1318.5 240.1 1324.6 240.6 1330.4 241.9 C1336.2 243.2 1342.4 245.2 1347.8 246.8 C1353.2 248.4 1357.6 251.3 1362.6 251.3 C1367.5 251.3 1371.7 248 1377.5 246.8 C1383.3 245.6 1391.1 244.8 1397.3 244.3 C1403.5 243.8 1410.2 241.5 1414.7 243.6 C1419.2 245.7 1420.9 252.2 1424.6 256.7 C1428.3 261.1 1433.3 267.8 1437 270.3 C1440.7 272.8 1442.2 272.2 1446.9 271.6 C1451.6 271 1460.2 268.2 1464.9 266.6 C1469.6 265 1471.5 264 1474.8 261.7 C1478.1 259.4 1481.4 253.6 1484.7 253 C1488 252.4 1490.9 255.1 1494.6 258 C1498.3 260.9 1503.3 267.2 1507 270.3 C1510.7 273.4 1513.6 273 1516.9 276.5 C1520.2 280 1523.5 287.5 1526.8 291.4 C1530.1 295.3 1533 297.4 1536.7 300.1 C1540.4 302.8 1544.5 305.2 1549.1 307.5 C1553.6 309.8 1559.5 311 1564 313.7 C1568.5 316.4 1571.9 320.3 1576.4 323.6 C1580.9 326.9 1587.5 332.1 1591.2 333.5 C1594.9 334.9 1595.4 330.7 1598.7 332.3 C1602 333.9 1606.9 340.1 1611 343.4 C1615.1 346.7 1618.9 347.6 1623.4 352.1 C1628 356.7 1634.2 367.4 1638.3 370.7 C1642.4 374 1644.9 370.4 1648.2 371.9 C1651.5 373.3 1654.8 378.8 1658.1 379.4 C1661.4 380 1663.9 376.2 1668 375.7 C1672.1 375.1 1678.8 376.1 1682.9 376.1 C1687 376.1 1689.1 374.6 1692.8 375.7 C1696.5 376.8 1700.2 381.5 1705.2 382.6 C1710.2 383.8 1717.5 382.7 1722.5 382.6 C1727.5 382.5 1729.6 381.3 1735 381.8 C1740.4 382.3 1748.6 385.4 1754.8 385.6 C1761 385.8 1767.1 382.9 1772.1 383.1 C1777 383.3 1781 386.1 1784.5 386.8 C1788 387.5 1791.8 387.2 1793.2 387.3" fill="none" stroke="#d888da" stroke-width="3.2" stroke-linejoin="round" stroke-linecap="round" stroke-opacity="0.95"/>
<line x1="1064.1" y1="399" x2="1076.1" y2="399" stroke="#1a1a1a" stroke-width="1.2"/>
<line x1="1064.1" y1="311.9" x2="1076.1" y2="311.9" stroke="#1a1a1a" stroke-width="1.2"/>
<line x1="1064.1" y1="224.8" x2="1076.1" y2="224.8" stroke="#1a1a1a" stroke-width="1.2"/>
<line x1="1064.1" y1="138.1" x2="1076.1" y2="138.1" stroke="#1a1a1a" stroke-width="1.2"/>
<line x1="1064.1" y1="51" x2="1076.1" y2="51" stroke="#1a1a1a" stroke-width="1.2"/>
<line x1="1147.5" y1="416.4" x2="1147.5" y2="428.4" stroke="#1a1a1a" stroke-width="1.2"/>
<line x1="1268.7" y1="416.4" x2="1268.7" y2="428.4" stroke="#1a1a1a" stroke-width="1.2"/>
<line x1="1389.8" y1="416.4" x2="1389.8" y2="428.4" stroke="#1a1a1a" stroke-width="1.2"/>
<line x1="1511" y1="416.4" x2="1511" y2="428.4" stroke="#1a1a1a" stroke-width="1.2"/>
<line x1="1632.2" y1="416.4" x2="1632.2" y2="428.4" stroke="#1a1a1a" stroke-width="1.2"/>
<line x1="1753.4" y1="416.4" x2="1753.4" y2="428.4" stroke="#1a1a1a" stroke-width="1.2"/>
<path d="M1076.1 33.2 V416.4 H1830" fill="none" stroke="#2a2a2a" stroke-width="1.2"/>
<text x="1035.8" y="406.2" font-size="25" textLength="16" lengthAdjust="spacingAndGlyphs" >0</text>
<text x="1038.7" y="319.1" font-size="25" textLength="13" lengthAdjust="spacingAndGlyphs" >5</text>
<text x="1025.2" y="232" font-size="25" textLength="26.4" lengthAdjust="spacingAndGlyphs" >10</text>
<text x="1028.1" y="145.3" font-size="25" textLength="23.4" lengthAdjust="spacingAndGlyphs" >15</text>
<text x="1023.1" y="58.2" font-size="25" textLength="28.6" lengthAdjust="spacingAndGlyphs" >20</text>
<text x="1120.9" y="460.3" font-size="27.5" textLength="51.2" lengthAdjust="spacingAndGlyphs" >May</text>
<text x="1247.2" y="460.3" font-size="27.5" textLength="43.3" lengthAdjust="spacingAndGlyphs" >Jun</text>
<text x="1371.7" y="460.3" font-size="27.5" textLength="37.4" lengthAdjust="spacingAndGlyphs" >Jul</text>
<text x="1486.8" y="460.3" font-size="27.5" textLength="50.4" lengthAdjust="spacingAndGlyphs" >Aug</text>
<text x="1601.5" y="460.3" font-size="27.5" textLength="59.8" lengthAdjust="spacingAndGlyphs" >Sept</text>
<text x="1729.8" y="460.3" font-size="27.5" textLength="45.8" lengthAdjust="spacingAndGlyphs" >Oct</text>
<text transform="translate(1006.9,388.8) rotate(-90)" x="-2.1" y="0" font-size="28" textLength="332.1" lengthAdjust="spacingAndGlyphs" >Number of reported cases</text>
<rect x="1592" y="101.2" width="24.9" height="25" fill="#787678"/>
<rect x="1592" y="128.9" width="24.9" height="25" fill="#c4c600"/>
<text x="1630.6" y="121.7" font-size="24" textLength="176.6" lengthAdjust="spacingAndGlyphs" >No travel history</text>
<text x="1631.6" y="149.7" font-size="24" textLength="142.6" lengthAdjust="spacingAndGlyphs" >Travel history</text>
<path d="M152 553 C155 553.2 164.8 553.7 170.1 554.2 C175.3 554.7 179 555.1 183.5 556 C188 556.9 193.6 558.6 197 559.5 C200.4 560.4 200.3 560.5 203.7 561.5 C207 562.5 212.6 563.7 217.1 565.5 C221.6 567.3 226 569.8 230.5 572.2 C235 574.7 239.4 577.3 243.9 580.2 C248.4 583.1 252.9 586.4 257.3 589.6 C261.7 592.8 266 596.1 270.4 599.5 C274.8 602.9 279 606.6 283.4 610.1 C287.8 613.6 292.3 616.9 296.8 620.2 C301.3 623.6 305.7 626.7 310.2 630.2 C314.7 633.7 319.2 637 323.7 641 C328.2 645 332.6 650.4 337.1 654.4 C341.6 658.4 346 662.2 350.5 665.1 C355 668 359.4 669.1 363.9 671.8 C368.4 674.5 372.9 678.2 377.3 681.2 C381.7 684.2 386 686.8 390.4 689.7 C394.8 692.6 399 696.1 403.4 698.8 C407.8 701.4 412.3 703.2 416.8 705.6 C421.3 708 425.7 710.8 430.2 712.9 C434.7 715 439.2 716.7 443.7 718.3 C448.2 719.9 452.6 721.2 457.1 722.3 C461.6 723.4 466 724.3 470.5 725 C475 725.7 479.4 726.1 483.9 726.6 C488.4 727.1 491.3 727.5 497.3 728 C503.3 728.5 512.9 729.2 520 729.7 C527.1 730.2 532.8 730.8 540 731.3 C547.2 731.8 559.2 732.7 563 733 L563 901.5 C559.1 901 546.8 899.4 539.8 898.4 C532.8 897.4 527.4 896.3 521.2 895.3 C515 894.3 508.9 893.5 502.7 892.2 C496.5 891 490.3 889.3 484.1 887.8 C477.9 886.2 470.7 884.9 465.5 882.9 C460.3 880.9 457.2 878.8 453.1 876 C449 873.2 444.6 869.2 440.7 866 C436.8 862.8 434.9 860.7 430 857 C425.1 853.3 416.4 848 411.4 844 C406.4 840 403.1 836.1 400 833 C396.9 829.9 395.6 828.9 392.8 825.5 C390.1 822.1 386.6 817 383.5 812.5 C380.4 808 378.9 805 374.3 798.8 C369.7 792.5 361.9 783.1 355.7 775 C349.5 766.9 343.3 759.2 337.1 750 C330.9 740.8 324.8 729.4 318.6 719.9 C312.4 710.4 305.9 702 300 693 C294.1 684 288.4 674.2 283.4 666 C278.4 657.8 274.4 651.8 270 644 C265.6 636.2 261.7 627.2 257.3 619.2 C253 611.2 248.4 602.8 243.9 596.3 C239.4 589.8 235 584.8 230.5 580.2 C226 575.6 221.6 571.7 217.1 568.8 C212.6 565.9 207 564.1 203.7 562.8 C200.3 561.5 200.4 561.8 197 560.8 C193.6 559.8 188 558 183.5 557 C179 556 175.3 555.5 170.1 555 C164.8 554.5 155 554 152 553.8 Z" fill="#ccd9f8"/>
<path d="M152 553.4 C155 553.6 164.8 554 170.1 554.5 C175.3 555 179 555.5 183.5 556.4 C188 557.3 192.5 558.6 197 560.1 C201.5 561.6 205.9 563.5 210.4 565.5 C214.9 567.5 219.3 569.3 223.8 572.2 C228.3 575.1 232.7 579 237.2 582.9 C241.7 586.8 246.1 591.1 250.6 595.7 C255.1 600.3 258.5 604.6 264 610.4 C269.5 616.1 277.9 624.4 283.4 630.2 C288.9 636 292.3 640.3 296.8 645 C301.3 649.7 305.7 653.8 310.2 658.4 C314.7 663 319.2 667.6 323.7 672.5 C328.2 677.4 331.8 682.2 337.1 687.5 C342.4 692.8 349.5 698.8 355.7 704.5 C361.9 710.2 368.1 715.6 374.3 721.5 C380.5 727.4 386.6 734.6 392.8 740 C399 745.4 405.2 749.8 411.4 754 C417.6 758.2 424.8 762.4 430.2 765.5 C435.6 768.6 439.2 770.5 443.7 772.6 C448.2 774.7 452.6 776.5 457.1 778 C461.6 779.5 466 780.4 470.5 781.4 C475 782.4 479.4 783.2 483.9 784 C488.4 784.8 491.3 785.2 497.3 786 C503.3 786.8 512.9 787.8 520 788.7 C527.1 789.6 532.8 790.5 540 791.3 C547.2 792.1 559.2 793.3 563 793.7" fill="none" stroke="#517ee5" stroke-width="1.8"/>
<line x1="119.6" y1="551.4" x2="131.6" y2="551.4" stroke="#1a1a1a" stroke-width="1.2"/>
<line x1="119.6" y1="645.3" x2="131.6" y2="645.3" stroke="#1a1a1a" stroke-width="1.2"/>
<line x1="119.6" y1="739.3" x2="131.6" y2="739.3" stroke="#1a1a1a" stroke-width="1.2"/>
<line x1="119.6" y1="833" x2="131.6" y2="833" stroke="#1a1a1a" stroke-width="1.2"/>
<line x1="173.3" y1="918.4" x2="173.3" y2="930.4" stroke="#1a1a1a" stroke-width="1.2"/>
<line x1="246.5" y1="918.4" x2="246.5" y2="930.4" stroke="#1a1a1a" stroke-width="1.2"/>
<line x1="319.7" y1="918.4" x2="319.7" y2="930.4" stroke="#1a1a1a" stroke-width="1.2"/>
<line x1="392.5" y1="918.4" x2="392.5" y2="930.4" stroke="#1a1a1a" stroke-width="1.2"/>
<line x1="465.2" y1="918.4" x2="465.2" y2="930.4" stroke="#1a1a1a" stroke-width="1.2"/>
<line x1="538.4" y1="918.4" x2="538.4" y2="930.4" stroke="#1a1a1a" stroke-width="1.2"/>
<path d="M131.6 535.5 V918.4 H583.4" fill="none" stroke="#3c3c3c" stroke-width="1.2"/>
<text x="44" y="558.6" font-size="25" textLength="62.6" lengthAdjust="spacingAndGlyphs" >1.000</text>
<text x="45" y="652.5" font-size="25" textLength="61.5" lengthAdjust="spacingAndGlyphs" >0.995</text>
<text x="43.7" y="746.5" font-size="25" textLength="62.9" lengthAdjust="spacingAndGlyphs" >0.990</text>
<text x="45.7" y="840.2" font-size="25" textLength="60.8" lengthAdjust="spacingAndGlyphs" >0.985</text>
<text x="147.7" y="962.1" font-size="27.5" textLength="51.2" lengthAdjust="spacingAndGlyphs" >May</text>
<text x="228.2" y="962.1" font-size="27.5" textLength="43.3" lengthAdjust="spacingAndGlyphs" >Jun</text>
<text x="308.8" y="962.1" font-size="27.5" textLength="37.4" lengthAdjust="spacingAndGlyphs" >Jul</text>
<text x="367.1" y="962.1" font-size="27.5" textLength="50.4" lengthAdjust="spacingAndGlyphs" >Aug</text>
<text x="433.8" y="962.1" font-size="27.5" textLength="59.8" lengthAdjust="spacingAndGlyphs" >Sept</text>
<text x="514.6" y="962.1" font-size="27.5" textLength="45.8" lengthAdjust="spacingAndGlyphs" >Oct</text>
<text transform="translate(23.8,800.9) rotate(-90)" x="-2.1" y="0" font-size="28" textLength="150.8" lengthAdjust="spacingAndGlyphs" >Susceptible</text>
<path d="M800.6 884.7 L811.1 884.7 L819.8 876.7 L827.2 869.2 L830.9 860.5 L835.9 846.9 L839.6 832 L844.6 817.2 L847 804.8 L850.8 793.6 L853 783 L858.4 753.9 L865.1 717.7 L871.8 681.5 L876.3 664.8 L880.4 642 L885.7 620.5 L889.8 604.4 L893.8 587 L897.8 576.2 L901.2 564.8 L907.2 556.1 L911.9 554.1 L915.2 558.1 L922 555 L925.3 560.1 L928.7 562.8 L934 565.5 L940.7 569.8 L947.4 569.8 L952.8 566.8 L958.2 569.2 L960.9 565.5 L968.9 564.8 L974.3 568.2 L978.3 573.5 L981 587 L983.7 596.3 L987.7 605.7 L994.4 613.1 L999.8 608.4 L1006.2 600.9 L1010.2 598.2 L1012.9 588.8 L1015.6 582.1 L1019 590.1 L1022.3 604.9 L1026.3 610.2 L1031.7 626.3 L1037.1 645.1 L1041.1 658.5 L1046.5 672 L1050.5 681 L1054.9 696.1 L1058.9 704.1 L1064.3 712.2 L1071 728.3 L1076.3 741.7 L1080.4 744.4 L1084.4 760.5 L1089.8 773.9 L1093.5 784.4 L1097.9 797.4 L1102.2 811.9 L1108 822 L1112.3 830.7 L1115.9 837.2 L1126.8 837.2 L1134 839.3 L1139.8 848.7 L1148.4 852.3 L1155.6 851.6 L1162.9 855.2 L1167.2 859.5 L1174.4 861 L1181.6 860.3 L1192.9 861.7 L1192.9 900 L1188.9 900.7 L1181.6 895.6 L1173 900 L1165.8 900.7 L1160 896.4 L1149.9 897.1 L1142.7 900 L1134 892.8 L1126.8 894.2 L1122.4 895.6 L1114.5 900 L1109.4 889.9 L1105.1 895.6 L1100.8 891.3 L1097.9 882.7 L1092.1 875.4 L1085.6 868.2 L1080.5 855.9 L1076.2 862.4 L1071.9 856.7 L1064.7 848 L1060.3 839.3 L1053.1 839.3 L1048.8 830.7 L1044.4 833.5 L1038.7 820.5 L1035.8 807.6 L1032.1 801.4 L1028.1 803.4 L1024 794 L1020 783.3 L1015.3 780 L1012 787.3 L1006.6 796.7 L999.9 798.1 L993.2 803.4 L987.8 807.4 L982.4 791.4 L978.4 779.3 L974.4 767.9 L970.4 771.2 L965.7 773.4 L959 779.4 L953.7 776 L945.6 784.1 L937.6 778.7 L930.9 771.4 L925.5 766.7 L920.1 767.3 L912.1 760 L906 755.5 L901.3 756.3 L894 757.9 L890.6 762 L885.2 771.4 L881.2 779.4 L876.5 786 L871.8 794.9 L866.9 809.7 L861.9 820.9 L857 832 L852 842 L845.8 853.1 L839.6 865.5 L833.4 875.4 L827.2 884.1 L819.8 887.8 L811.1 892.1 L800.6 892.8 Z" fill="#f1dbf0"/>
<path d="M800.6 889 L807.4 889.7 L813.6 888.4 L817.3 885.3 L823.5 881.9 L828.5 877.9 L832.2 871.7 L835.9 861.8 L839.6 853.1 L843.3 845.7 L845.8 835.8 L849.5 827.1 L853.2 819.7 L855.7 808.5 L858.2 798.6 L861.5 788.5 L866.5 771.4 L873.2 747.2 L879.9 725.7 L885.2 711 L893.3 691.5 L896 690.6 L900 684.1 L904 682.1 L907.4 679.9 L910.7 682.5 L912.7 682.8 L917.4 688.2 L924.2 687.8 L928.8 692.9 L930.9 692.5 L936.2 696 L940.3 700 L947 701.3 L953 696 L959 696.9 L965.1 691.9 L969 693.7 L975.7 692.3 L978.4 700.1 L982.4 714.9 L987.1 729 L993.8 730.7 L997.2 727.6 L1003.9 722.9 L1009.9 714.9 L1014.6 703.5 L1018.7 707.5 L1022.7 718.2 L1027.4 729.6 L1032.7 734.3 L1038.1 753.8 L1044.2 768.5 L1047.5 769.2 L1053.3 781.5 L1060 785.6 L1065.2 794.4 L1068.3 802.1 L1070.4 806.1 L1076.9 814.8 L1081.3 812.2 L1085.6 825.6 L1090.7 836.4 L1095 841.5 L1099.3 855.2 L1103.7 866 L1109.4 864.6 L1114.5 876.9 L1121.7 871.8 L1124.6 873.3 L1128.2 871.8 L1131.1 873.3 L1134 870.4 L1138.3 877.6 L1144.1 881.5 L1149.9 880.9 L1155.6 878.6 L1162.1 879.8 L1167.2 884.8 L1173 885.3 L1177.3 881.9 L1183.1 881.9 L1188.9 886.7 L1192.7 886.7" fill="none" stroke="#cf80d2" stroke-width="1.5" stroke-linejoin="round"/>
<line x1="769.5" y1="903.2" x2="781.5" y2="903.2" stroke="#1a1a1a" stroke-width="1.2"/>
<line x1="769.5" y1="825" x2="781.5" y2="825" stroke="#1a1a1a" stroke-width="1.2"/>
<line x1="769.5" y1="746.8" x2="781.5" y2="746.8" stroke="#1a1a1a" stroke-width="1.2"/>
<line x1="769.5" y1="668.6" x2="781.5" y2="668.6" stroke="#1a1a1a" stroke-width="1.2"/>
<line x1="769.5" y1="590.4" x2="781.5" y2="590.4" stroke="#1a1a1a" stroke-width="1.2"/>
<line x1="821.6" y1="918.6" x2="821.6" y2="930.6" stroke="#1a1a1a" stroke-width="1.2"/>
<line x1="891.3" y1="918.6" x2="891.3" y2="930.6" stroke="#1a1a1a" stroke-width="1.2"/>
<line x1="960.5" y1="918.6" x2="960.5" y2="930.6" stroke="#1a1a1a" stroke-width="1.2"/>
<line x1="1030.2" y1="918.6" x2="1030.2" y2="930.6" stroke="#1a1a1a" stroke-width="1.2"/>
<line x1="1099.8" y1="918.6" x2="1099.8" y2="930.6" stroke="#1a1a1a" stroke-width="1.2"/>
<line x1="1169.5" y1="918.6" x2="1169.5" y2="930.6" stroke="#1a1a1a" stroke-width="1.2"/>
<path d="M781.5 534.8 V918.6 H1212.1" fill="none" stroke="#1a1a1a" stroke-width="1.2"/>
<text x="740.5" y="910.4" font-size="25" textLength="16.5" lengthAdjust="spacingAndGlyphs" >0</text>
<text x="661.9" y="832.2" font-size="25" textLength="95.4" lengthAdjust="spacingAndGlyphs" >0.00005</text>
<text x="666.2" y="754" font-size="25" textLength="91.1" lengthAdjust="spacingAndGlyphs" >0.00010</text>
<text x="669.1" y="675.8" font-size="25" textLength="88.1" lengthAdjust="spacingAndGlyphs" >0.00015</text>
<text x="662.9" y="597.6" font-size="25" textLength="94.5" lengthAdjust="spacingAndGlyphs" >0.00020</text>
<text x="795" y="962.1" font-size="27.5" textLength="51.2" lengthAdjust="spacingAndGlyphs" >May</text>
<text x="869.8" y="962.1" font-size="27.5" textLength="43.3" lengthAdjust="spacingAndGlyphs" >Jun</text>
<text x="942.4" y="962.1" font-size="27.5" textLength="37.4" lengthAdjust="spacingAndGlyphs" >Jul</text>
<text x="1006" y="962.1" font-size="27.5" textLength="50.4" lengthAdjust="spacingAndGlyphs" >Aug</text>
<text x="1069.1" y="962.1" font-size="27.5" textLength="59.8" lengthAdjust="spacingAndGlyphs" >Sept</text>
<text x="1145.9" y="962.1" font-size="27.5" textLength="45.8" lengthAdjust="spacingAndGlyphs" >Oct</text>
<text transform="translate(643.2,776.8) rotate(-90)" x="-3.2" y="0" font-size="28" textLength="105.6" lengthAdjust="spacingAndGlyphs" >Infected</text>
<path d="M1398.2 901.5 C1407.8 900.8 1443.8 898.6 1455.6 897.5 C1467.3 896.4 1464.3 896.2 1468.7 895 C1473.1 893.8 1477.4 892.2 1481.8 890.5 C1486.2 888.8 1491.1 886.4 1494.9 884.5 C1498.7 882.6 1499 883.7 1504.8 879.1 C1510.6 874.5 1521.2 865.2 1529.5 856.8 C1537.8 848.4 1547.1 837.8 1554.3 828.9 C1561.5 820 1567 812 1572.9 803.5 C1578.9 795 1583 788.5 1590 777.8 C1597 767.1 1606.5 751.4 1614.8 739.4 C1623 727.4 1632.1 715.4 1639.5 705.5 C1646.9 695.6 1650.9 690.9 1659.3 680 C1667.7 669.1 1682.7 649.6 1690 640.3 C1697.3 631 1698.9 629.4 1703.4 624.2 C1707.9 619.1 1712.3 614 1716.8 609.4 C1721.3 604.8 1725.7 600.6 1730.2 596.7 C1734.7 592.8 1739.2 589.3 1743.7 585.9 C1748.2 582.5 1752.6 579.4 1757.1 576.5 C1761.6 573.6 1766 571.1 1770.5 568.5 C1775 565.9 1779.4 563.1 1783.9 561.1 C1788.4 559.1 1793 557.7 1797.3 556.4 C1801.6 555.1 1807.5 553.7 1809.6 553.2 L1809.6 693.9 C1807.5 694.3 1801.6 695.3 1797.3 696.3 C1793 697.3 1788.4 698.5 1783.9 699.7 C1779.4 700.9 1775 702.2 1770.5 703.7 C1766 705.2 1761.6 706.7 1757.1 708.4 C1752.6 710.1 1748.2 711.8 1743.7 713.8 C1739.2 715.8 1734.7 717.9 1730.2 720.2 C1725.7 722.6 1721.3 725.2 1716.8 727.9 C1712.3 730.6 1707.9 733.5 1703.4 736.6 C1698.9 739.7 1696.5 741.3 1690 746.7 C1683.5 752.1 1672.7 762.2 1664.3 769.2 C1655.9 776.2 1646.1 783.9 1639.5 789 C1632.9 794.1 1631.3 794.9 1624.7 800 C1618.1 805.1 1607.6 813.4 1600 819.6 C1592.4 825.8 1586.7 831.2 1579.1 837 C1571.5 842.8 1562.6 848.7 1554.3 854.3 C1546 859.9 1537.8 865.2 1529.5 870.4 C1521.2 875.6 1510.6 882.2 1504.8 885.3 C1499 888.4 1498.7 887.5 1494.9 888.9 C1491.1 890.3 1486.2 892.2 1481.8 893.5 C1477.4 894.8 1473.1 896 1468.7 896.8 C1464.3 897.6 1467.3 897.4 1455.6 898.3 C1443.8 899.2 1407.8 901.4 1398.2 902 Z" fill="#c4dab5"/>
<path d="M1398.2 901.8 C1401.2 901.7 1409.9 901.5 1416.2 901.3 C1422.5 901.1 1429.3 901.1 1435.9 900.5 C1442.5 899.9 1450.1 898.7 1455.6 897.9 C1461.1 897.1 1464.3 896.9 1468.7 895.9 C1473.1 894.9 1477.4 893.5 1481.8 892 C1486.2 890.5 1490.2 888.9 1494.9 886.7 C1499.6 884.5 1504.2 882.6 1510 878.9 C1515.8 875.1 1522.1 870.2 1529.5 864.2 C1536.9 858.2 1546 850.6 1554.3 843.2 C1562.6 835.8 1571.5 826.9 1579.1 819.6 C1586.7 812.3 1594 805.5 1600 799.6 C1606 793.7 1608.2 790.9 1614.8 784 C1621.4 777.1 1631.2 766.5 1639.5 758 C1647.8 749.5 1656 741.4 1664.3 733.3 C1672.6 725.2 1682.6 715.7 1689.1 709.5 C1695.6 703.3 1698.8 700.3 1703.4 696.3 C1708 692.3 1712.3 688.9 1716.8 685.6 C1721.3 682.3 1725.7 679.4 1730.2 676.5 C1734.7 673.6 1739.2 670.9 1743.7 668.4 C1748.2 665.9 1752.6 663.5 1757.1 661.3 C1761.6 659.1 1766 657 1770.5 655.2 C1775 653.4 1779.4 651.9 1783.9 650.4 C1788.4 648.9 1793 647.6 1797.3 646.5 C1801.6 645.4 1807.5 644.2 1809.6 643.7" fill="none" stroke="#458c1a" stroke-width="1.8"/>
<line x1="1366.6" y1="901.3" x2="1378.6" y2="901.3" stroke="#2a2a2a" stroke-width="1.2"/>
<line x1="1366.6" y1="818.5" x2="1378.6" y2="818.5" stroke="#2a2a2a" stroke-width="1.2"/>
<line x1="1366.6" y1="736" x2="1378.6" y2="736" stroke="#2a2a2a" stroke-width="1.2"/>
<line x1="1366.6" y1="653.3" x2="1378.6" y2="653.3" stroke="#2a2a2a" stroke-width="1.2"/>
<line x1="1366.6" y1="570.8" x2="1378.6" y2="570.8" stroke="#2a2a2a" stroke-width="1.2"/>
<line x1="1420.5" y1="918.6" x2="1420.5" y2="930.6" stroke="#2a2a2a" stroke-width="1.2"/>
<line x1="1493.1" y1="918.6" x2="1493.1" y2="930.6" stroke="#2a2a2a" stroke-width="1.2"/>
<line x1="1566.7" y1="918.6" x2="1566.7" y2="930.6" stroke="#2a2a2a" stroke-width="1.2"/>
<line x1="1639.3" y1="918.6" x2="1639.3" y2="930.6" stroke="#2a2a2a" stroke-width="1.2"/>
<line x1="1712.4" y1="918.6" x2="1712.4" y2="930.6" stroke="#2a2a2a" stroke-width="1.2"/>
<line x1="1785.5" y1="918.6" x2="1785.5" y2="930.6" stroke="#2a2a2a" stroke-width="1.2"/>
<path d="M1378.6 534.9 V918.6 H1830" fill="none" stroke="#1a1a1a" stroke-width="1.2"/>
<text x="1337.9" y="908.5" font-size="25" textLength="16.2" lengthAdjust="spacingAndGlyphs" >0</text>
<text x="1290.8" y="825.7" font-size="25" textLength="62.9" lengthAdjust="spacingAndGlyphs" >0.005</text>
<text x="1294.1" y="743.2" font-size="25" textLength="59.5" lengthAdjust="spacingAndGlyphs" >0.010</text>
<text x="1296.3" y="660.5" font-size="25" textLength="57.3" lengthAdjust="spacingAndGlyphs" >0.015</text>
<text x="1290.8" y="578" font-size="25" textLength="62.9" lengthAdjust="spacingAndGlyphs" >0.020</text>
<text x="1393.9" y="962.1" font-size="27.5" textLength="51.2" lengthAdjust="spacingAndGlyphs" >May</text>
<text x="1471.6" y="962.1" font-size="27.5" textLength="43.3" lengthAdjust="spacingAndGlyphs" >Jun</text>
<text x="1548.6" y="962.1" font-size="27.5" textLength="37.4" lengthAdjust="spacingAndGlyphs" >Jul</text>
<text x="1615.1" y="962.1" font-size="27.5" textLength="50.4" lengthAdjust="spacingAndGlyphs" >Aug</text>
<text x="1681.7" y="962.1" font-size="27.5" textLength="59.8" lengthAdjust="spacingAndGlyphs" >Sept</text>
<text x="1761.9" y="962.1" font-size="27.5" textLength="45.8" lengthAdjust="spacingAndGlyphs" >Oct</text>
<text transform="translate(1274.5,791.9) rotate(-90)" x="-2" y="0" font-size="28" textLength="134.7" lengthAdjust="spacingAndGlyphs" >Recovered</text>
</svg></body></html>
